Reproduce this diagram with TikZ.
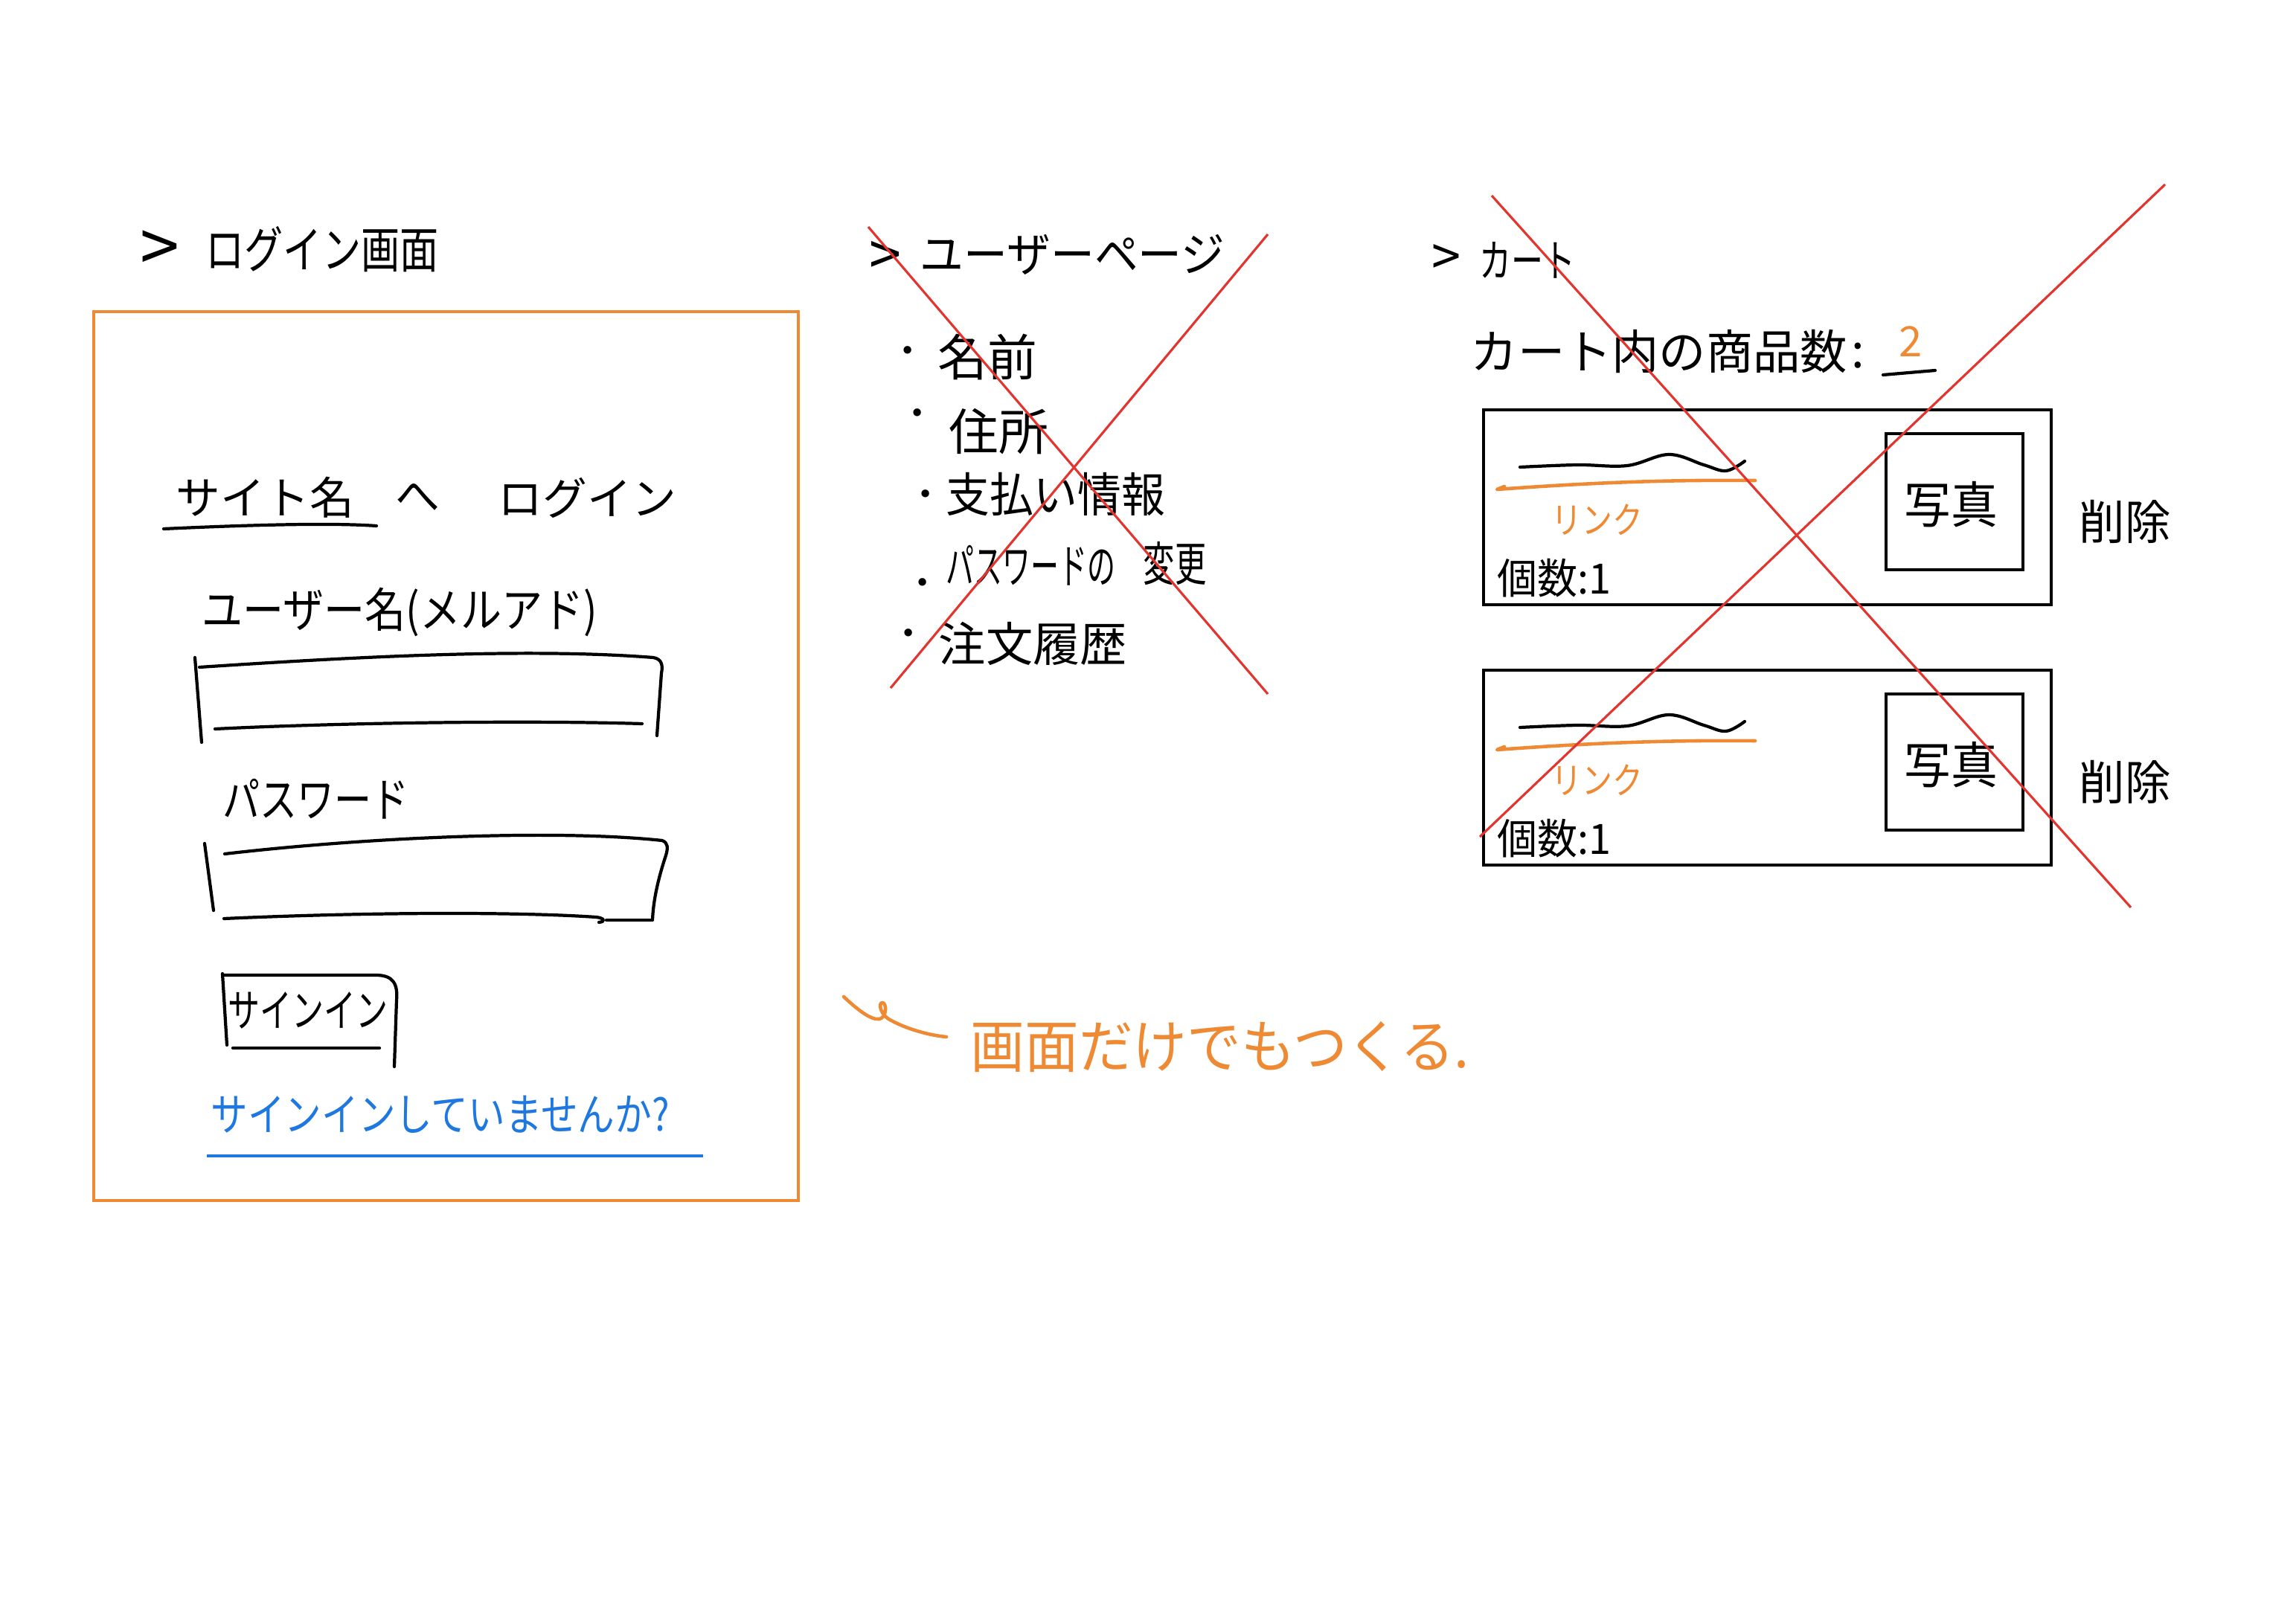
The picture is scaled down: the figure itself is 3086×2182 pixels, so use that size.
\documentclass[tikz,border=0pt]{standalone}
\usepackage{fontspec}
\usepackage{graphicx}
\newfontfamily\jp{Noto Sans CJK JP}
\definecolor{sorange}{HTML}{EF8A34}
\definecolor{sblue}{HTML}{1F78DF}
\definecolor{sred}{HTML}{E2352F}
\newcommand\hsx[2]{\scalebox{#1}[1]{#2}}
\begin{document}
\begin{tikzpicture}[x=0.01cm,y=-0.01cm,
  jt/.style={inner sep=0pt, anchor=west, font=\jp\fontsize{#1pt}{#1pt}\selectfont},
  jc/.style={inner sep=0pt, anchor=center, font=\jp\fontsize{#1pt}{#1pt}\selectfont},
  ink/.style={line width=1.2pt, line cap=round, line join=round},
  cross/.style={sred, line width=0.9pt},
  obox/.style={draw=sorange, line width=0.9pt},
  cbox/.style={line width=1.3pt},
  oink/.style={sorange, line width=1.3pt, line cap=round, line join=round}]
\useasboundingbox (0,0) rectangle (3086,2182);
\fill[white] (0,0) rectangle (3086,2182);

% ===== Login screen =====
\node[jc=27] (lgt) at (215,338) {>};
\node[jt=19] (lgtitle) at (276,335) {\hsx{0.78}{ログイン画面}};
\draw[obox] (126,419) rectangle (1073,1614);
\node[jt=17] (site) at (236,669) {サイト名};
\node[jt=17] (he) at (531,669) {へ};
\node[jt=17] (login) at (669,669) {ログイン};
\draw[ink] (220,711) .. controls (350,705) and (450,703) .. (506,707);
\node[jt=18] (user) at (271,823) {\hsx{0.87}{ユーザー名(メルアド)}};
% input 1
\draw[ink] (262,884) -- (271,998);
\draw[ink] (268,897) .. controls (450,885) and (700,870) .. (878,884) .. controls (890,886) and (891,895) .. (889,905) -- (883,989);
\draw[ink] (289,980) .. controls (450,972) and (700,968) .. (863,973);
\node[jt=18] (pw) at (299,1074) {\hsx{0.79}{パスワード}};
% input 2
\draw[ink] (275,1134) -- (287,1224);
\draw[ink] (302,1148) .. controls (500,1125) and (750,1115) .. (890,1130) .. controls (898,1133) and (898,1140) .. (895,1150) .. controls (885,1180) and (878,1210) .. (877,1237);
\draw[ink] (301,1235) .. controls (500,1226) and (700,1226) .. (801,1233) .. controls (812,1234) and (815,1239) .. (805,1240);
\draw[ink] (815,1237) -- (875,1237);
% button
\draw[ink] (299,1309) -- (305,1405);
\draw[ink] (301,1311) -- (505,1311) .. controls (528,1311) and (535,1322) .. (533,1345) -- (530,1434);
\draw[ink] (313,1409) -- (510,1409);
\node[jt=17] (signin) at (306,1358) {\hsx{0.72}{サインイン}};
\node[jt=17, text=sblue] (nosign) at (283,1498) {\hsx{0.83}{サインインしていませんか?}};
\draw[sblue, line width=1.2pt] (278,1554) -- (945,1554);

% ===== User page =====
\node[jc=22] (ugt) at (1190,347) {>};
\node[jt=18] (utitle) at (1236,342) {\hsx{0.93}{ユーザーページ}};
\node[jc=14] (d1) at (1220,478) {・};
\node[jt=19] (name) at (1260,480) {名前};
\node[jc=14] (d2) at (1233,562) {・};
\node[jt=19] (addr) at (1275,580) {住所};
\node[jc=14] (d3) at (1244,671) {・};
\node[jt=18] (pay) at (1271,665) {\hsx{0.93}{支払い情報}};
\node[jc=14] (d4) at (1240,790) {・};
\node[jt=18] (pwc) at (1271,760) {\hsx{0.6}{パスワードの}};
\node[jt=18] (chg) at (1536,758) {\hsx{0.67}{変更}};
\node[jc=14] (d5) at (1221,858) {・};
\node[jt=18] (hist) at (1261,865) {注文履歴};
\draw[cross] (1167,305) -- (1704,933);
\draw[cross] (1704,315) -- (1197,925);

% ===== Cart =====
\node[jc=20] (cgt) at (1944,350) {>};
\node[jt=17] (ctitle) at (1988,350) {\hsx{0.72}{カート}};
\node[jt=18] (ccount) at (1976,473) {カート内の商品数};
\node[jc=18] (colon) at (2497,478) {:};
\node[jc=16, text=sorange] (two) at (2568,459) {2};
\draw[ink] (2531,504) -- (2601,498);
\foreach \dy in {0,350}{
\begin{scope}[shift={(0,\dy)}]
\draw[cbox] (1994,551) rectangle (2757,813);
\draw[cbox] (2535,583) rectangle (2719,766);
\node[jc=19] (photo\dy) at (2622,678) {\hsx{0.94}{写真}};
\node[jt=18] (del\dy) at (2794,701) {\hsx{0.97}{削除}};
\draw[ink] plot[smooth, tension=0.6] coordinates {(2043,628) (2120,625) (2187,626) (2243,611) (2290,625) (2320,633) (2345,620)};
\draw[oink] (2022,654) -- (2012,658) .. controls (2150,648) and (2250,645) .. (2359,646);
\node[jt=14, text=sorange] (link\dy) at (2085,699) {\hsx{0.83}{リンク}};
\node[jt=16] (qty\dy) at (2012,777) {\hsx{0.96}{個数:1}};
\end{scope}}
\draw[cross] (2005,263) -- (2864,1220);
\draw[cross] (2910,248) -- (1989,1125);

% ===== Annotation =====
\draw[oink] (1134,1340) .. controls (1150,1355) and (1170,1372) .. (1182,1370) .. controls (1192,1368) and (1192,1348) .. (1186,1348) .. controls (1180,1348) and (1183,1365) .. (1198,1372) .. controls (1220,1384) and (1250,1392) .. (1272,1394);
\node[jt=22, text=sorange] (note) at (1304,1407) {\hsx{0.94}{画面だけでもつくる.}};
\end{tikzpicture}
\end{document}
